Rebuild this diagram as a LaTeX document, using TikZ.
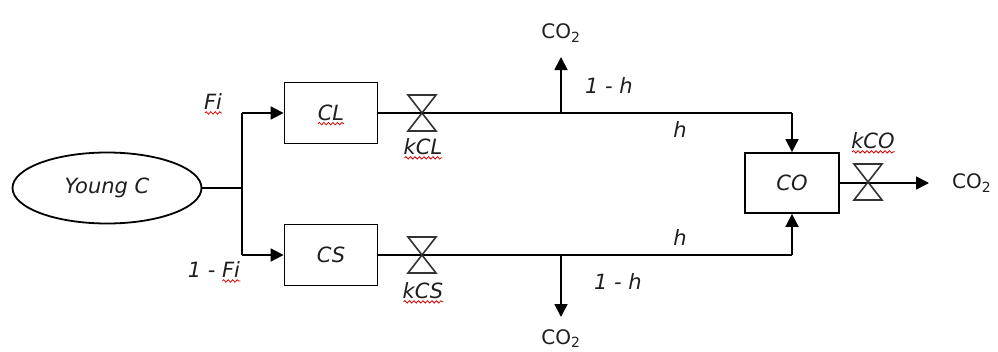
\documentclass[tikz,border=0pt]{standalone}
\usepackage{fontspec}
\setmainfont{DejaVu Sans}
\usetikzlibrary{arrows.meta,decorations.pathmorphing,shapes.geometric}
\tikzset{
  flow/.style={line width=1.8pt, draw=black},
  arr/.style={flow, -{Triangle[length=13pt,width=13pt]}},
  txt/.style={font=\fontsize{21}{24}\selectfont\itshape, text=black!88},
  unit/.style={draw, line width=1.8pt, minimum width=93pt, minimum height=61pt, inner sep=0pt, txt},
  lbl/.style={inner sep=0pt, txt},
  gas/.style={inner sep=0pt, font=\fontsize{20}{24}\selectfont, text=black!88},
  valve/.style={line width=1.6pt, draw=black!80},
  squig/.style={draw=red!85!black, line width=0.8pt, decorate, decoration={snake, amplitude=1.2pt, segment length=4.5pt}},
}
\begin{document}
\begin{tikzpicture}[x=1pt, y=-1pt]
\useasboundingbox (0,0) rectangle (998,351);
% nodes
\node[draw, ellipse, line width=1.8pt, minimum width=189pt, minimum height=71pt, inner sep=0pt, txt] (young) at (107,188) {Young C};
\coordinate (j) at (242,188);
\coordinate (jt) at (242,113);
\coordinate (jb) at (242,255);
\node[unit] (cl) at (331,113) {CL};
\node[unit] (cs) at (331,255) {CS};
\node[unit, minimum width=94pt, minimum height=60pt] (co) at (792,183) {CO};
\coordinate (tt) at (792,113);
\coordinate (bb) at (792,255);
\coordinate (up) at (561,113);
\coordinate (dn) at (561,255);
\coordinate (upend) at (561,57);
\coordinate (dnend) at (561,317);
\coordinate (outend) at (929,183);
% labels
\node[lbl] (fi) at (213,102) {Fi};
\node[lbl] (onefi) at (214,270) {1 - Fi};
\node[lbl] (kcl) at (423,147) {kCL};
\node[lbl] (kcs) at (423,291) {kCS};
\node[lbl] (kco) at (873,141) {kCO};
\node[gas] (co2t) at (561,33) {CO\textsubscript{2}};
\node[gas, anchor=north] (co2b) at (561,329) {CO\textsubscript{2}};
\node[gas, anchor=west] (co2r) at (952,183) {CO\textsubscript{2}};
\node[lbl] (oht) at (609,86) {1 - h};
\node[lbl] (ht) at (680,130) {h};
\node[lbl] (hb) at (680,238) {h};
\node[lbl] (ohb) at (618,282) {1 - h};
% connectors
\draw[flow] (young.east) -- (j);
\draw[flow] (jt) -- (jb);
\draw[arr] (jt) -- (cl.west);
\draw[arr] (jb) -- (cs.west);
\draw[flow] (cl.east) -- (tt);
\draw[arr] (tt) -- (co.north);
\draw[flow] (cs.east) -- (bb);
\draw[arr] (bb) -- (co.south);
\draw[arr] (up) -- (upend);
\draw[arr] (dn) -- (dnend);
\draw[arr] (co.east) -- (outend);
% valves
\draw[valve] (408,95) -- (436,95) -- (408,131) -- (436,131) -- cycle;
\draw[valve] (408,237) -- (436,237) -- (408,273) -- (436,273) -- cycle;
\draw[valve] (854,164) -- (882,164) -- (854,200) -- (882,200) -- cycle;
% spell-check squiggles
\draw[squig] ([xshift=1pt,yshift=-3pt]fi.base west) -- ([yshift=-3pt]fi.base east);
\draw[squig] ([xshift=-18pt,yshift=-3pt]onefi.base east) -- ([yshift=-3pt]onefi.base east);
\draw[squig] ([xshift=-13pt,yshift=-3pt]cl.base) -- ([xshift=13pt,yshift=-3pt]cl.base);
\draw[squig] ([xshift=1pt,yshift=-3pt]kcl.base west) -- ([yshift=-3pt]kcl.base east);
\draw[squig] ([xshift=1pt,yshift=-3pt]kcs.base west) -- ([yshift=-3pt]kcs.base east);
\draw[squig] ([xshift=1pt,yshift=-3pt]kco.base west) -- ([yshift=-3pt]kco.base east);
\end{tikzpicture}
\end{document}
